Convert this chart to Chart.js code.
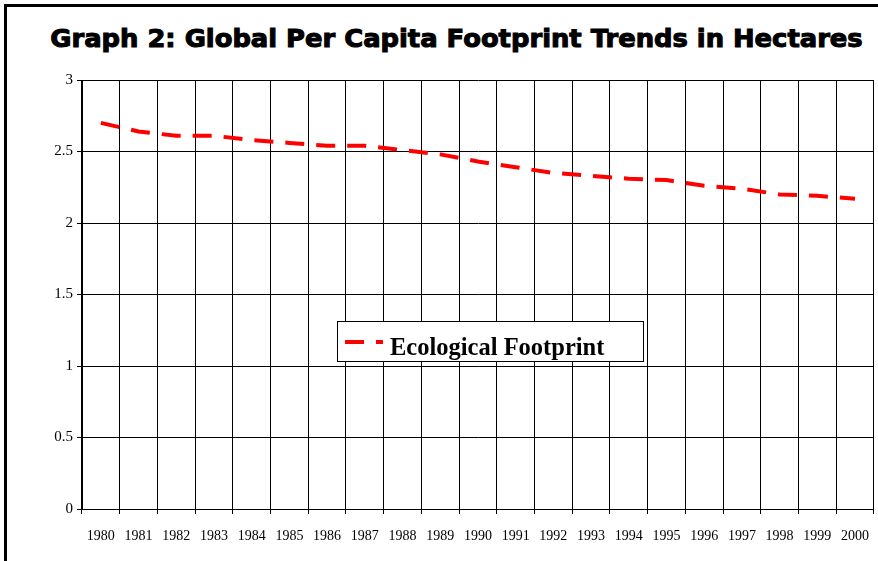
<!DOCTYPE html>
<html>
<head>
<meta charset="utf-8">
<title>Global Per Capita Footprint Trends</title>
<script src="https://cdn.jsdelivr.net/npm/chart.js@4.4.0/dist/chart.umd.min.js"></script>
<style>
    html, body { margin: 0; padding: 0; background: #fff; overflow: hidden; }
    #frame {
        position: absolute; left: 4px; top: 4px; width: 1000px; height: 1000px;
        border-left: 3px solid #000; border-top: 3px solid #000;
    }
    #title {
        position: absolute; left: 0; top: 27px; width: 913px;
        text-align: center; white-space: nowrap;
        font: bold 24px "DejaVu Sans", sans-serif; line-height: 24px;
        -webkit-text-stroke: 1px #000;
        transform: scaleX(1.075);
    }
    #footprintChart { position: absolute; left: 0; top: 0; }
</style>
</head>
<body>
<div id="frame"></div>
<div id="title">Graph 2: Global Per Capita Footprint Trends in Hectares</div>
<canvas id="footprintChart" width="883" height="561"></canvas>
<script>
// Years on the x axis
const years = ['1980', '1981', '1982', '1983', '1984', '1985', '1986', '1987', '1988', '1989',
    '1990', '1991', '1992', '1993', '1994', '1995', '1996', '1997', '1998', '1999', '2000'];

// Hectares per person
const footprint = [2.70, 2.64, 2.61, 2.61, 2.58, 2.56, 2.54, 2.54, 2.51, 2.48,
    2.43, 2.39, 2.35, 2.33, 2.31, 2.30, 2.26, 2.24, 2.20, 2.19, 2.17];

// Value axis labels, bottom to top
const yTickLabels = ['0', '0.5', '1', '1.5', '2', '2.5', '3'];

const seriesName = 'Ecological Footprint';

// Legend drawn as a boxed key inside the plot area
const boxedLegend = {
    id: 'boxedLegend',
    afterDraw(chart) {
        const ctx = chart.ctx;
        const ds = chart.data.datasets[0];
        ctx.save();
        ctx.fillStyle = '#fff';
        ctx.fillRect(337, 321, 307, 41);
        ctx.strokeStyle = '#000';
        ctx.lineWidth = 1;
        ctx.strokeRect(337.5, 321.5, 306, 40);

        ctx.strokeStyle = ds.borderColor;
        ctx.lineWidth = ds.borderWidth;
        ctx.setLineDash(ds.borderDash);
        ctx.beginPath();
        ctx.moveTo(345, 342);
        ctx.lineTo(383, 342);
        ctx.stroke();
        ctx.setLineDash([]);

        ctx.fillStyle = '#000';
        ctx.font = 'bold 24.5px "Liberation Serif"';
        ctx.textBaseline = 'alphabetic';
        ctx.fillText(ds.label, 390, 355);
        ctx.restore();
    }
};

function drawChart() {
    const ctx = document.getElementById('footprintChart').getContext('2d');
    new Chart(ctx, {
        type: 'line',
        data: {
            labels: years,
            datasets: [{
                label: seriesName,
                data: footprint,
                borderColor: '#ff0000',
                borderWidth: 4,
                borderDash: [19, 12],
                borderCapStyle: 'butt',
                tension: 0,
                pointRadius: 0,
                fill: false
            }]
        },
        options: {
            responsive: false,
            animation: false,
            devicePixelRatio: 1,
            layout: { padding: { top: 80, left: 0, right: 0, bottom: 0 } },
            plugins: {
                legend: { display: false },
                title: { display: false },
                tooltip: { enabled: false }
            },
            scales: {
                x: {
                    offset: true,
                    grid: { offset: true, color: '#000', lineWidth: 1, tickLength: 5 },
                    border: { color: '#000' },
                    ticks: {
                        color: '#000', padding: 14, maxRotation: 0, autoSkip: false,
                        font: { family: '"Liberation Serif"', size: 14 }
                    },
                    afterFit: s => { s.height = 52; }
                },
                y: {
                    min: 0,
                    max: 3,
                    grid: { color: '#000', lineWidth: 1, tickLength: 5 },
                    border: { color: '#000' },
                    ticks: {
                        stepSize: 0.5, color: '#000', padding: 4,
                        font: { family: '"Liberation Serif"', size: 15 },
                        callback: (value, index) => yTickLabels[index]
                    },
                    afterFit: s => { s.width = 82; }
                }
            }
        },
        plugins: [boxedLegend]
    });
}

window.onload = drawChart;
</script>
</body>
</html>
